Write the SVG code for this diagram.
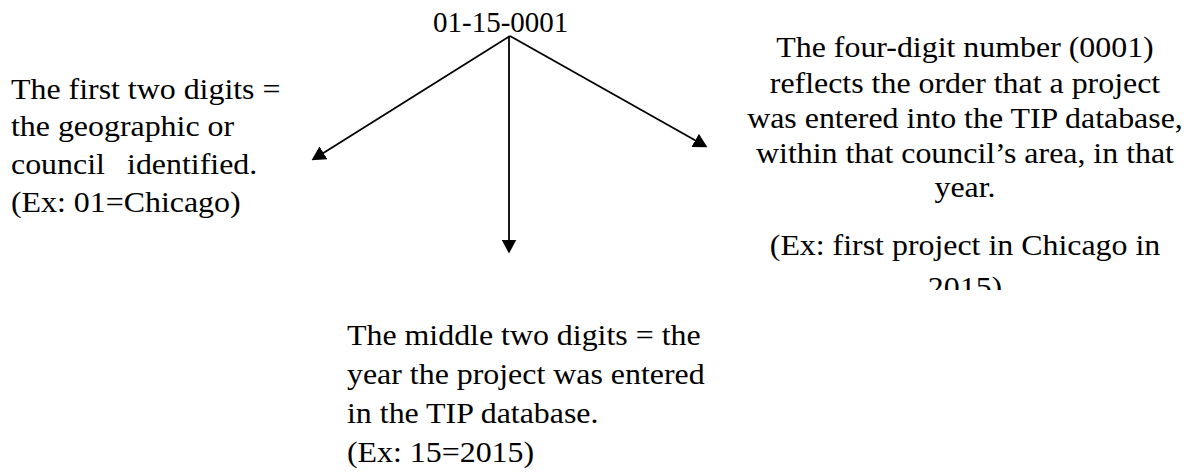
<svg xmlns="http://www.w3.org/2000/svg" width="1197" height="472" viewBox="0 0 1197 472">
<style>
  text { font-family: "Liberation Serif", "Times New Roman", serif; font-size: 29px; fill: #000; }
  .c { text-anchor: middle; }
  .conn line { stroke: #000; stroke-width: 1.8; fill: none; }
</style>
<defs>
  <marker id="ah" markerUnits="userSpaceOnUse" markerWidth="14" markerHeight="15" refX="9.5" refY="7.5" orient="auto" viewBox="0 0 14 15">
    <path d="M0,0 L14,7.5 L0,15 z" fill="#000"/>
  </marker>
  <clipPath id="rclip"><rect x="700" y="0" width="497" height="290"/></clipPath>
</defs>
<rect width="1197" height="472" fill="#fff"/>

<g id="code">
  <text x="433" y="32">01-15-0001</text>
</g>

<g id="connectors" class="conn">
  <line x1="510" y1="36" x2="315.4" y2="157.9" marker-end="url(#ah)"/>
  <line x1="509" y1="36" x2="509" y2="249" marker-end="url(#ah)"/>
  <line x1="510" y1="36" x2="703.5" y2="145" marker-end="url(#ah)"/>
</g>

<g id="first-two-digits" transform="translate(11,0) scale(1.1,1)">
  <text x="0" y="99">The first two digits =</text>
  <text x="0" y="136">the geographic or</text>
  <text x="0" y="174">council<tspan x="105.5">identified.</tspan></text>
  <text x="0" y="212">(Ex: 01=Chicago)</text>
</g>

<g id="middle-two-digits" transform="translate(347,0) scale(1.1,1)">
  <text x="0" y="345">The middle two digits = the</text>
  <text x="0" y="384">year the project was entered</text>
  <text x="0" y="423">in the TIP database.</text>
  <text x="0" y="462">(Ex: 15=2015)</text>
</g>

<g id="four-digit-number" clip-path="url(#rclip)">
  <g transform="translate(965,0) scale(1.1,1)">
    <text class="c" x="0" y="57">The four-digit number (0001)</text>
    <text class="c" x="0" y="93">reflects the order that a project</text>
    <text class="c" x="0" y="128">was entered into the TIP database,</text>
    <text class="c" x="0" y="163">within that council’s area, in that</text>
    <text class="c" x="0" y="197">year.</text>
    <text class="c" x="0" y="255">(Ex: first project in Chicago in</text>
    <text class="c" x="0" y="297">2015)</text>
  </g>
</g>
</svg>
